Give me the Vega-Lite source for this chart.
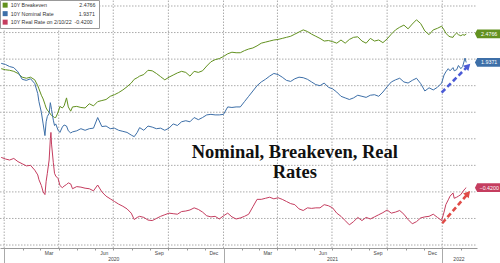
{
  "$schema": "https://vega.github.io/schema/vega-lite/v6.json",
  "width": 477,
  "height": 248,
  "autosize": {"type": "none"},
  "padding": {"left": 0, "top": 0, "right": 23, "bottom": 15},
  "background": "white",
  "config": {
    "view": {"stroke": null},
    "axis": {"labelFont": "Liberation Sans", "labelFontSize": 5, "labelColor": "#444", "domainColor": "#999", "tickColor": "#999", "title": null, "grid": false},
    "legend": {"labelFont": "Liberation Sans", "labelFontSize": 5.3, "labelColor": "#333", "symbolSize": 25, "symbolType": "square", "symbolStrokeWidth": 0, "rowPadding": 2.5, "labelOffset": 3, "padding": 2.5, "strokeColor": "#999", "fillColor": "white", "orient": "none", "legendX": 0, "legendY": 0}
  },
  "datasets": {
    "gridY": [{"v": -1.5}, {"v": -1}, {"v": -0.5}, {"v": 0}, {"v": 0.5}, {"v": 1}, {"v": 1.5}, {"v": 2}, {"v": 2.5}, {"v": 3}],
    "gridX": [{"d": "2020-01-01"}, {"d": "2020-04-01"}, {"d": "2020-07-01"}, {"d": "2020-10-01"}, {"d": "2021-01-01"}, {"d": "2021-04-01"}, {"d": "2021-07-01"}, {"d": "2021-10-01"}, {"d": "2022-01-01"}],
    "main": [
      {"date": "2019-12-27", "b": 1.82, "n": 1.92, "r": 0.15},
      {"date": "2020-01-03", "b": 1.80, "n": 1.90, "r": 0.12},
      {"date": "2020-01-10", "b": 1.79, "n": 1.86, "r": 0.10},
      {"date": "2020-01-17", "b": 1.77, "n": 1.84, "r": 0.13},
      {"date": "2020-01-24", "b": 1.73, "n": 1.76, "r": 0.07},
      {"date": "2020-01-31", "b": 1.66, "n": 1.62, "r": 0.03},
      {"date": "2020-02-07", "b": 1.64, "n": 1.60, "r": -0.01},
      {"date": "2020-02-14", "b": 1.66, "n": 1.63, "r": 0.00},
      {"date": "2020-02-21", "b": 1.61, "n": 1.54, "r": -0.09},
      {"date": "2020-02-26", "b": 1.50, "n": 1.35, "r": -0.18},
      {"date": "2020-02-28", "b": 1.44, "n": 1.20, "r": -0.27},
      {"date": "2020-03-03", "b": 1.32, "n": 1.00, "r": -0.38},
      {"date": "2020-03-06", "b": 1.25, "n": 0.78, "r": -0.50},
      {"date": "2020-03-09", "b": 1.15, "n": 0.56, "r": -0.55},
      {"date": "2020-03-11", "b": 1.08, "n": 0.82, "r": -0.30},
      {"date": "2020-03-13", "b": 1.04, "n": 0.92, "r": -0.15},
      {"date": "2020-03-16", "b": 1.00, "n": 0.98, "r": 0.10},
      {"date": "2020-03-18", "b": 0.97, "n": 1.18, "r": 0.50},
      {"date": "2020-03-19", "b": 0.95, "n": 1.12, "r": 0.62},
      {"date": "2020-03-20", "b": 0.94, "n": 1.05, "r": 0.40},
      {"date": "2020-03-23", "b": 0.92, "n": 0.85, "r": 0.05},
      {"date": "2020-03-25", "b": 0.90, "n": 0.75, "r": -0.15},
      {"date": "2020-03-27", "b": 0.90, "n": 0.78, "r": -0.20},
      {"date": "2020-03-31", "b": 1.00, "n": 0.66, "r": -0.25},
      {"date": "2020-04-03", "b": 1.11, "n": 0.62, "r": -0.38},
      {"date": "2020-04-07", "b": 1.08, "n": 0.72, "r": -0.42},
      {"date": "2020-04-10", "b": 1.12, "n": 0.76, "r": -0.39},
      {"date": "2020-04-14", "b": 1.27, "n": 0.74, "r": -0.36},
      {"date": "2020-04-17", "b": 1.10, "n": 0.65, "r": -0.33},
      {"date": "2020-04-21", "b": 1.02, "n": 0.61, "r": -0.35},
      {"date": "2020-04-24", "b": 1.10, "n": 0.63, "r": -0.44},
      {"date": "2020-05-01", "b": 1.11, "n": 0.65, "r": -0.40},
      {"date": "2020-05-08", "b": 1.09, "n": 0.69, "r": -0.41},
      {"date": "2020-05-15", "b": 1.08, "n": 0.66, "r": -0.43},
      {"date": "2020-05-22", "b": 1.16, "n": 0.69, "r": -0.44},
      {"date": "2020-05-29", "b": 1.12, "n": 0.70, "r": -0.48},
      {"date": "2020-06-05", "b": 1.20, "n": 0.90, "r": -0.37},
      {"date": "2020-06-12", "b": 1.22, "n": 0.73, "r": -0.50},
      {"date": "2020-06-19", "b": 1.24, "n": 0.74, "r": -0.58},
      {"date": "2020-06-26", "b": 1.30, "n": 0.69, "r": -0.63},
      {"date": "2020-07-03", "b": 1.33, "n": 0.70, "r": -0.68},
      {"date": "2020-07-10", "b": 1.37, "n": 0.66, "r": -0.73},
      {"date": "2020-07-17", "b": 1.42, "n": 0.64, "r": -0.77},
      {"date": "2020-07-24", "b": 1.48, "n": 0.62, "r": -0.82},
      {"date": "2020-07-31", "b": 1.55, "n": 0.57, "r": -0.90},
      {"date": "2020-08-05", "b": 1.62, "n": 0.54, "r": -1.02},
      {"date": "2020-08-10", "b": 1.65, "n": 0.62, "r": -0.98},
      {"date": "2020-08-14", "b": 1.68, "n": 0.71, "r": -0.96},
      {"date": "2020-08-21", "b": 1.71, "n": 0.66, "r": -0.98},
      {"date": "2020-08-28", "b": 1.79, "n": 0.74, "r": -1.03},
      {"date": "2020-09-04", "b": 1.78, "n": 0.72, "r": -1.04},
      {"date": "2020-09-11", "b": 1.73, "n": 0.69, "r": -1.00},
      {"date": "2020-09-18", "b": 1.67, "n": 0.70, "r": -0.96},
      {"date": "2020-09-25", "b": 1.61, "n": 0.66, "r": -0.93},
      {"date": "2020-10-02", "b": 1.66, "n": 0.70, "r": -0.90},
      {"date": "2020-10-09", "b": 1.70, "n": 0.78, "r": -0.91},
      {"date": "2020-10-16", "b": 1.74, "n": 0.75, "r": -0.92},
      {"date": "2020-10-23", "b": 1.77, "n": 0.82, "r": -0.87},
      {"date": "2020-10-30", "b": 1.75, "n": 0.84, "r": -0.86},
      {"date": "2020-11-06", "b": 1.68, "n": 0.82, "r": -0.84},
      {"date": "2020-11-13", "b": 1.77, "n": 0.90, "r": -0.80},
      {"date": "2020-11-20", "b": 1.75, "n": 0.86, "r": -0.83},
      {"date": "2020-11-27", "b": 1.78, "n": 0.90, "r": -0.88},
      {"date": "2020-12-04", "b": 1.87, "n": 0.95, "r": -0.95},
      {"date": "2020-12-11", "b": 1.95, "n": 0.96, "r": -0.97},
      {"date": "2020-12-18", "b": 1.99, "n": 0.95, "r": -0.96},
      {"date": "2020-12-25", "b": 2.01, "n": 0.95, "r": -1.01},
      {"date": "2021-01-01", "b": 2.05, "n": 0.96, "r": -0.95},
      {"date": "2021-01-08", "b": 2.10, "n": 1.10, "r": -0.90},
      {"date": "2021-01-15", "b": 2.13, "n": 1.09, "r": -0.97},
      {"date": "2021-01-22", "b": 2.12, "n": 1.10, "r": -1.01},
      {"date": "2021-01-29", "b": 2.12, "n": 1.10, "r": -0.99},
      {"date": "2021-02-05", "b": 2.16, "n": 1.20, "r": -0.96},
      {"date": "2021-02-12", "b": 2.19, "n": 1.30, "r": -0.92},
      {"date": "2021-02-19", "b": 2.21, "n": 1.40, "r": -0.78},
      {"date": "2021-02-26", "b": 2.25, "n": 1.50, "r": -0.64},
      {"date": "2021-03-05", "b": 2.30, "n": 1.57, "r": -0.64},
      {"date": "2021-03-12", "b": 2.32, "n": 1.62, "r": -0.62},
      {"date": "2021-03-19", "b": 2.34, "n": 1.68, "r": -0.60},
      {"date": "2021-03-26", "b": 2.36, "n": 1.73, "r": -0.63},
      {"date": "2021-04-02", "b": 2.37, "n": 1.71, "r": -0.61},
      {"date": "2021-04-09", "b": 2.39, "n": 1.66, "r": -0.64},
      {"date": "2021-04-16", "b": 2.41, "n": 1.60, "r": -0.68},
      {"date": "2021-04-23", "b": 2.43, "n": 1.58, "r": -0.72},
      {"date": "2021-04-30", "b": 2.47, "n": 1.63, "r": -0.74},
      {"date": "2021-05-07", "b": 2.51, "n": 1.66, "r": -0.82},
      {"date": "2021-05-14", "b": 2.55, "n": 1.65, "r": -0.85},
      {"date": "2021-05-21", "b": 2.52, "n": 1.62, "r": -0.80},
      {"date": "2021-05-28", "b": 2.47, "n": 1.57, "r": -0.81},
      {"date": "2021-06-04", "b": 2.43, "n": 1.52, "r": -0.80},
      {"date": "2021-06-11", "b": 2.39, "n": 1.50, "r": -0.80},
      {"date": "2021-06-18", "b": 2.34, "n": 1.55, "r": -0.74},
      {"date": "2021-06-25", "b": 2.35, "n": 1.47, "r": -0.76},
      {"date": "2021-07-02", "b": 2.33, "n": 1.44, "r": -0.80},
      {"date": "2021-07-09", "b": 2.30, "n": 1.38, "r": -0.90},
      {"date": "2021-07-16", "b": 2.36, "n": 1.30, "r": -0.96},
      {"date": "2021-07-23", "b": 2.30, "n": 1.27, "r": -1.04},
      {"date": "2021-07-30", "b": 2.37, "n": 1.24, "r": -1.12},
      {"date": "2021-08-06", "b": 2.41, "n": 1.27, "r": -1.06},
      {"date": "2021-08-13", "b": 2.42, "n": 1.32, "r": -0.98},
      {"date": "2021-08-20", "b": 2.34, "n": 1.30, "r": -1.04},
      {"date": "2021-08-27", "b": 2.30, "n": 1.28, "r": -0.98},
      {"date": "2021-09-03", "b": 2.39, "n": 1.32, "r": -1.01},
      {"date": "2021-09-10", "b": 2.34, "n": 1.33, "r": -0.97},
      {"date": "2021-09-17", "b": 2.36, "n": 1.30, "r": -0.93},
      {"date": "2021-09-24", "b": 2.31, "n": 1.38, "r": -0.89},
      {"date": "2021-10-01", "b": 2.38, "n": 1.48, "r": -0.84},
      {"date": "2021-10-08", "b": 2.47, "n": 1.57, "r": -0.90},
      {"date": "2021-10-15", "b": 2.55, "n": 1.61, "r": -0.88},
      {"date": "2021-10-22", "b": 2.60, "n": 1.64, "r": -0.85},
      {"date": "2021-10-29", "b": 2.64, "n": 1.57, "r": -0.92},
      {"date": "2021-11-05", "b": 2.57, "n": 1.55, "r": -1.02},
      {"date": "2021-11-12", "b": 2.66, "n": 1.60, "r": -1.10},
      {"date": "2021-11-19", "b": 2.74, "n": 1.64, "r": -1.06},
      {"date": "2021-11-26", "b": 2.67, "n": 1.54, "r": -0.99},
      {"date": "2021-12-03", "b": 2.53, "n": 1.40, "r": -0.97},
      {"date": "2021-12-10", "b": 2.46, "n": 1.46, "r": -0.96},
      {"date": "2021-12-17", "b": 2.55, "n": 1.42, "r": -0.92},
      {"date": "2021-12-24", "b": 2.58, "n": 1.47, "r": -0.98},
      {"date": "2021-12-31", "b": 2.62, "n": 1.55, "r": -1.04},
      {"date": "2022-01-04", "b": 2.55, "n": 1.70, "r": -0.88},
      {"date": "2022-01-07", "b": 2.49, "n": 1.76, "r": -0.74},
      {"date": "2022-01-11", "b": 2.44, "n": 1.82, "r": -0.65},
      {"date": "2022-01-14", "b": 2.42, "n": 1.78, "r": -0.58},
      {"date": "2022-01-19", "b": 2.41, "n": 1.84, "r": -0.52},
      {"date": "2022-01-21", "b": 2.45, "n": 1.78, "r": -0.62},
      {"date": "2022-01-25", "b": 2.49, "n": 1.80, "r": -0.60},
      {"date": "2022-01-28", "b": 2.46, "n": 1.88, "r": -0.58},
      {"date": "2022-02-01", "b": 2.44, "n": 1.82, "r": -0.55},
      {"date": "2022-02-04", "b": 2.46, "n": 1.86, "r": -0.50},
      {"date": "2022-02-08", "b": 2.45, "n": 2.02, "r": -0.44},
      {"date": "2022-02-10", "b": 2.4766, "n": 1.9371, "r": -0.42}
    ],
    "notes": [
      {"t": "Nominal, Breakeven, Real", "d": "2021-04-30", "v": 0.139},
      {"t": "Rates", "d": "2021-04-30", "v": -0.238}
    ],
    "arrows": [
      {"s": "n", "d0": "2021-12-31", "v0": 1.37, "d1": "2022-02-13", "v1": 1.87},
      {"s": "r", "d0": "2022-01-01", "v0": -1.09, "d1": "2022-02-13", "v1": -0.53}
    ]
  },
  "resolve": {"axis": {"x": "independent"}},
  "layer": [
    {
      "data": {"name": "gridY"},
      "mark": {"type": "rule", "color": "#ababab", "strokeWidth": 1, "strokeDash": [1.5, 1.5]},
      "encoding": {
        "x": {"datum": {"year": 2019, "month": 12, "date": 25, "utc": true}, "type": "temporal",
          "scale": {"type": "utc", "domain": [{"year": 2019, "month": 12, "date": 25, "utc": true}, {"year": 2022, "month": 2, "date": 28, "utc": true}], "nice": false}, "axis": null},
        "x2": {"datum": {"year": 2022, "month": 2, "date": 28, "utc": true}},
        "y": {"field": "v", "type": "quantitative",
          "scale": {"domain": [-1.556, 3.113], "nice": false, "zero": false},
          "axis": {"orient": "right", "values": [-1.5, -1, -0.5, 0, 0.5, 1, 1.5, 2, 2.5, 3], "format": ".4f", "grid": false, "tickSize": 3, "labelPadding": 1}}
      }
    },
    {
      "data": {"name": "gridX"},
      "mark": {"type": "rule", "color": "#ababab", "strokeWidth": 1, "strokeDash": [1.5, 1.5]},
      "encoding": {
        "x": {"field": "d", "type": "temporal",
          "scale": {"type": "utc", "domain": [{"year": 2019, "month": 12, "date": 25, "utc": true}, {"year": 2022, "month": 2, "date": 28, "utc": true}], "nice": false},
          "axis": {"orient": "bottom", "tickCount": {"interval": "month", "step": 1}, "grid": false, "ticks": true, "tickSize": 2, "labels": false, "domain": true}},
        "y": {"datum": -1.556, "type": "quantitative", "scale": {"domain": [-1.556, 3.113], "nice": false, "zero": false}, "axis": null},
        "y2": {"datum": 3.113}
      }
    },
    {
      "data": {"name": "main"},
      "transform": [{"fold": ["b", "n", "r"], "as": ["s", "v"]}],
      "mark": {"type": "line", "strokeWidth": 1},
      "encoding": {
        "x": {"field": "date", "type": "temporal",
          "scale": {"type": "utc", "domain": [{"year": 2019, "month": 12, "date": 25, "utc": true}, {"year": 2022, "month": 2, "date": 28, "utc": true}], "nice": false},
          "axis": null},
        "y": {"field": "v", "type": "quantitative",
          "scale": {"domain": [-1.556, 3.113], "nice": false, "zero": false}, "axis": null},
        "color": {"field": "s", "type": "nominal",
          "scale": {"domain": ["b", "n", "r"], "range": ["#62911f", "#3d6fa8", "#c53d5f"]},
          "legend": {"title": null,
            "labelExpr": "datum.value == 'b' ? '10Y Breakeven\u00a0\u00a0\u00a0\u00a0\u00a0\u00a0\u00a0\u00a0\u00a0\u00a0\u00a0\u00a0\u00a0\u00a0\u00a0\u00a0\u00a0\u00a0\u00a0\u00a0\u00a0\u00a02.4766' : datum.value == 'n' ? '10Y Nominal Rate\u00a0\u00a0\u00a0\u00a0\u00a0\u00a0\u00a0\u00a0\u00a0\u00a0\u00a0\u00a0\u00a0\u00a0\u00a0\u00a0\u00a01.9371' : '10Y Real Rate on 2/10/22\u00a0\u00a0-0.4200'",
            "encode": {"symbols": {"update": {"fill": {"scale": "color", "field": "value"}, "fillOpacity": {"value": 1}}}}}}
      }
    },
    {
      "data": {"name": "main"},
      "transform": [
        {"fold": ["b", "n", "r"], "as": ["s", "v"]},
        {"filter": "utcyear(datum.date) == 2022 && utcmonth(datum.date) == 1 && utcdate(datum.date) == 10"}
      ],
      "mark": {"type": "point", "shape": "M-1.2,0L-1,-0.38L1,-0.38L1,0.38L-1,0.38Z", "size": 529, "filled": true, "opacity": 1, "xOffset": 22.5},
      "encoding": {
        "x": {"field": "date", "type": "temporal",
          "scale": {"type": "utc", "domain": [{"year": 2019, "month": 12, "date": 25, "utc": true}, {"year": 2022, "month": 2, "date": 28, "utc": true}], "nice": false},
          "axis": null},
        "y": {"field": "v", "type": "quantitative", "scale": {"domain": [-1.556, 3.113], "nice": false, "zero": false}, "axis": null},
        "color": {"field": "s", "type": "nominal", "legend": null}
      }
    },
    {
      "data": {"name": "main"},
      "transform": [
        {"fold": ["b", "n", "r"], "as": ["s", "v"]},
        {"filter": "utcyear(datum.date) == 2022 && utcmonth(datum.date) == 1 && utcdate(datum.date) == 10"}
      ],
      "mark": {"type": "text", "dx": 23, "color": "white", "fontSize": 5.3, "align": "center", "baseline": "middle"},
      "encoding": {
        "x": {"field": "date", "type": "temporal",
          "scale": {"type": "utc", "domain": [{"year": 2019, "month": 12, "date": 25, "utc": true}, {"year": 2022, "month": 2, "date": 28, "utc": true}], "nice": false},
          "axis": {"orient": "bottom", "values": [
            {"year": 2020, "month": 3, "date": 15, "utc": true}, {"year": 2020, "month": 6, "date": 15, "utc": true},
            {"year": 2020, "month": 9, "date": 15, "utc": true}, {"year": 2020, "month": 12, "date": 15, "utc": true},
            {"year": 2021, "month": 3, "date": 15, "utc": true}, {"year": 2021, "month": 6, "date": 15, "utc": true},
            {"year": 2021, "month": 9, "date": 15, "utc": true}, {"year": 2021, "month": 12, "date": 15, "utc": true}],
            "format": "%b", "grid": false, "ticks": false, "domain": false, "labelPadding": 2, "labelOverlap": false}},
        "y": {"field": "v", "type": "quantitative", "scale": {"domain": [-1.556, 3.113], "nice": false, "zero": false}, "axis": null},
        "text": {"field": "v", "type": "quantitative", "format": ".4f"}
      }
    },
    {
      "data": {"name": "notes"},
      "mark": {"type": "text", "font": "Liberation Serif", "fontWeight": "bold", "fontSize": 18.5, "align": "center", "baseline": "alphabetic", "color": "#111"},
      "encoding": {
        "x": {"field": "d", "type": "temporal",
          "scale": {"type": "utc", "domain": [{"year": 2019, "month": 12, "date": 25, "utc": true}, {"year": 2022, "month": 2, "date": 28, "utc": true}], "nice": false},
          "axis": {"orient": "bottom", "values": [
            {"year": 2020, "month": 7, "date": 1, "utc": true}, {"year": 2021, "month": 7, "date": 1, "utc": true}, {"year": 2022, "month": 1, "date": 28, "utc": true}],
            "format": "%Y", "grid": false, "ticks": false, "domain": false, "labelPadding": 8.5, "labelOverlap": false}},
        "y": {"field": "v", "type": "quantitative", "scale": {"domain": [-1.556, 3.113], "nice": false, "zero": false}, "axis": null},
        "text": {"field": "t"}
      }
    },
    {
      "data": {"name": "arrows"},
      "transform": [{"filter": "datum.s == 'n'"}],
      "mark": {"type": "rule", "color": "#4b5bd6", "strokeWidth": 2.6, "strokeDash": [5, 3]},
      "encoding": {
        "x": {"field": "d0", "type": "temporal", "scale": {"type": "utc", "domain": [{"year": 2019, "month": 12, "date": 25, "utc": true}, {"year": 2022, "month": 2, "date": 28, "utc": true}], "nice": false},
          "axis": {"orient": "bottom", "tickCount": {"interval": "year", "step": 1}, "grid": false, "ticks": true, "tickSize": 15, "tickColor": "#aaa", "labels": false, "domain": false}},
        "y": {"field": "v0", "type": "quantitative", "scale": {"domain": [-1.556, 3.113], "nice": false, "zero": false}, "axis": null},
        "x2": {"field": "d1"},
        "y2": {"field": "v1"}
      }
    },
    {
      "data": {"name": "arrows"},
      "transform": [{"filter": "datum.s == 'r'"}],
      "mark": {"type": "rule", "color": "#e04b47", "strokeWidth": 2.6, "strokeDash": [5, 3]},
      "encoding": {
        "x": {"field": "d0", "type": "temporal", "scale": {"type": "utc", "domain": [{"year": 2019, "month": 12, "date": 25, "utc": true}, {"year": 2022, "month": 2, "date": 28, "utc": true}], "nice": false}, "axis": null},
        "y": {"field": "v0", "type": "quantitative", "scale": {"domain": [-1.556, 3.113], "nice": false, "zero": false}, "axis": null},
        "x2": {"field": "d1"},
        "y2": {"field": "v1"}
      }
    },
    {
      "data": {"name": "arrows"},
      "transform": [{"filter": "datum.s == 'n'"}],
      "mark": {"type": "point", "shape": "triangle-up", "filled": true, "size": 55, "angle": 45, "color": "#4b5bd6", "opacity": 1},
      "encoding": {
        "x": {"field": "d1", "type": "temporal", "scale": {"type": "utc", "domain": [{"year": 2019, "month": 12, "date": 25, "utc": true}, {"year": 2022, "month": 2, "date": 28, "utc": true}], "nice": false}, "axis": null},
        "y": {"field": "v1", "type": "quantitative", "scale": {"domain": [-1.556, 3.113], "nice": false, "zero": false}, "axis": null}
      }
    },
    {
      "data": {"name": "arrows"},
      "transform": [{"filter": "datum.s == 'r'"}],
      "mark": {"type": "point", "shape": "triangle-up", "filled": true, "size": 55, "angle": 41, "color": "#e04b47", "opacity": 1},
      "encoding": {
        "x": {"field": "d1", "type": "temporal", "scale": {"type": "utc", "domain": [{"year": 2019, "month": 12, "date": 25, "utc": true}, {"year": 2022, "month": 2, "date": 28, "utc": true}], "nice": false}, "axis": null},
        "y": {"field": "v1", "type": "quantitative", "scale": {"domain": [-1.556, 3.113], "nice": false, "zero": false}, "axis": null}
      }
    }
  ]
}
